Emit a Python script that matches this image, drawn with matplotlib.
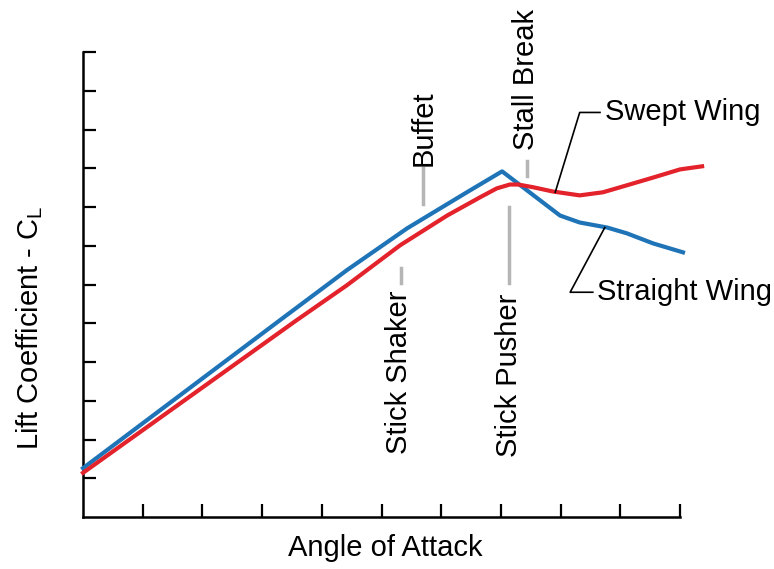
import matplotlib
matplotlib.use('Agg')
import matplotlib.pyplot as plt

plt.rcParams['font.family'] = ['Liberation Sans', 'DejaVu Sans']
plt.rcParams['mathtext.default'] = 'regular'

# data (angle of attack, lift coefficient in tick units)
straight_x = [0, 3.30, 4.42, 5.43, 6.43, 7.02, 7.99, 8.32, 8.78, 9.11, 9.55, 10.05]
straight_y = [1.26, 5.08, 6.37, 7.45, 8.38, 8.92, 7.78, 7.60, 7.47, 7.32, 7.06, 6.83]

swept_x = [0, 3.58, 4.42, 5.31, 6.10, 6.65, 6.93, 7.15, 7.29, 7.54, 7.87, 8.32, 8.71,
           9.11, 9.55, 10.0, 10.37]
swept_y = [1.14, 5.08, 5.98, 7.01, 7.78, 8.25, 8.48, 8.58, 8.58, 8.51, 8.40, 8.30, 8.38,
           8.56, 8.76, 8.97, 9.05]

# gray marker positions (x) and their labels
markers = ['Stick Shaker', 'Buffet', 'Stick Pusher', 'Stall Break']
marker_x = [5.33, 5.70, 7.14, 7.44]

blue = '#1f74b8'
red = '#e3222b'
gray = '#b5b5b5'
fs = 21

fig = plt.figure(figsize=(7.74, 5.69), dpi=100)
ax = fig.add_axes([83/774, 1-517/569, 597/774, 465/569])
ax.set_xlim(0, 10)
ax.set_ylim(0, 12)

ax.plot(straight_x, straight_y, color=blue, lw=3, clip_on=False, zorder=3)
ax.plot(swept_x, swept_y, color=red, lw=3, clip_on=False, zorder=3)

# axes style
for s in ['top', 'right']:
    ax.spines[s].set_visible(False)
for s in ['left', 'bottom']:
    ax.spines[s].set_linewidth(1.8)
ax.set_xticks(range(1, 11))
ax.set_yticks(range(1, 13))
ax.tick_params(direction='in', length=9.5, width=1.6, labelbottom=False, labelleft=False)

# markers
ax.plot([marker_x[0]]*2, [6.03, 6.42], color=gray, lw=2.5)
ax.text(5.30, 5.85, markers[0], rotation=90, ha='center', va='top', fontsize=fs)
ax.plot([marker_x[1]]*2, [8.09, 9.0], color=gray, lw=2.5)
ax.text(5.70, 9.07, markers[1], rotation=90, ha='center', va='bottom', fontsize=fs)
ax.plot([marker_x[2]]*2, [6.03, 7.99], color=gray, lw=2.5)
ax.text(7.13, 5.77, markers[2], rotation=90, ha='center', va='top', fontsize=fs)
ax.plot([marker_x[3]]*2, [8.81, 9.20], color=gray, lw=2.5)
ax.text(7.42, 9.46, markers[3], rotation=90, ha='center', va='bottom', fontsize=fs, clip_on=False)

# leaders
ax.plot([7.91, 8.32, 8.66], [8.38, 10.44, 10.44], color='black', lw=1.2, zorder=4)
ax.text(8.74, 10.44, 'Swept Wing', ha='left', va='center', fontsize=fs)
ax.plot([8.74, 8.16, 8.54], [7.47, 5.80, 5.80], color='black', lw=1.2, zorder=4)
ax.text(8.61, 5.80, 'Straight Wing', ha='left', va='center', fontsize=fs)

fig.text(385/774, 1-548/569, 'Angle of Attack', ha='center', va='center', fontsize=fs)
fig.text(30/774, 1-328/569, 'Lift Coefficient - C$_L$', rotation=90,
         ha='center', va='center', fontsize=fs)

fig.savefig('out.png', dpi=100)
